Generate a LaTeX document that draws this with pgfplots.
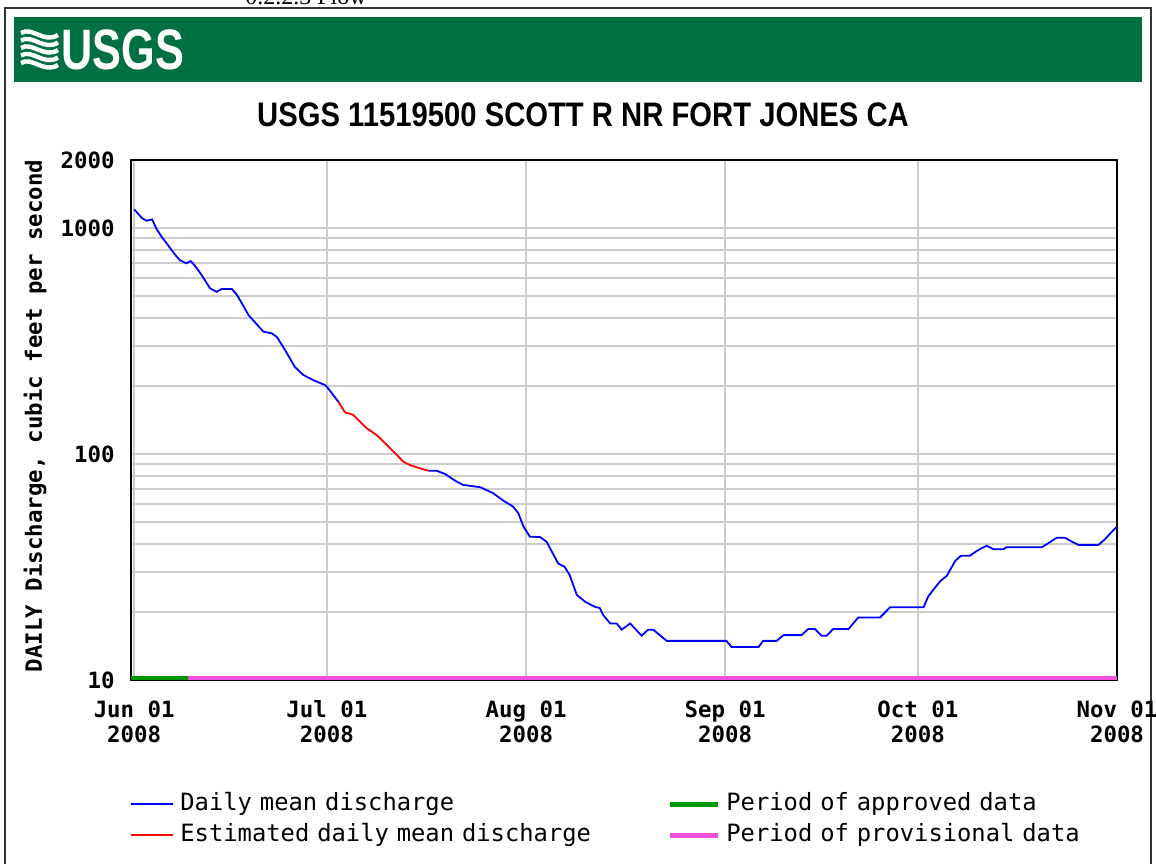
\documentclass[border=0pt]{standalone}
\usepackage{fontspec}
\setmainfont{Liberation Sans}
\newfontfamily\monof{DejaVu Sans Mono}
\newfontfamily\seriff{Liberation Serif}
\usepackage{pgfplots}
\pgfplotsset{compat=1.18}
\usepackage{pgfplotstable}
\definecolor{usgsgreen}{RGB}{0,112,66}
\definecolor{gridgray}{RGB}{204,204,204}
\definecolor{apprgreen}{RGB}{0,150,0}
\definecolor{provmag}{RGB}{240,80,220}

% day index: 0 = Jun 01 2008
\pgfplotstableread{
x y
0.0 1210
1.2 1107
1.9 1077
2.8 1091
3.4 1000
4.3 912
5.6 815
6.4 760
7.1 721
8.1 698
8.8 714
9.5 679
10.5 619
11.8 541
12.8 522
13.6 537
15.2 537
16.0 506
17.8 412
20.1 348
21.4 342
22.2 330
23.5 288
25.0 243
26.3 224
27.9 212
29.7 202
30.2 195
31.8 170
}\blueA

\pgfplotstableread{
x y
31.8 170
32.8 153
34.1 149
36.2 130
37.8 121
39.3 110
41.9 92.5
42.9 89.4
44.5 86.5
45.8 84.3
}\redA

\pgfplotstableread{
x y
45.8 84.3
47.1 84.3
48.4 81.6
50.2 75.5
51.2 73
53.9 71.3
55.9 67
57.5 62.1
59.0 58.5
59.8 54.7
60.6 47.7
61.6 43.1
63.2 42.9
64.2 40.9
66.0 32.8
67.0 31.7
67.8 29.1
68.9 23.8
70.2 22.2
71.7 21.1
72.5 20.8
73.0 19.4
74.1 17.8
75.1 17.8
75.9 16.7
77.2 17.8
79.0 15.7
80.0 16.7
80.8 16.7
82.9 14.9
92.2 14.9
93.0 14.0
97.2 14.0
97.9 14.9
100.0 14.9
101.1 15.8
103.9 15.8
104.9 16.8
106.0 16.8
107.0 15.7
107.8 15.7
108.8 16.8
111.2 16.8
112.7 18.9
116.1 18.9
117.7 21.0
122.9 21.0
123.6 23.4
124.7 25.7
125.5 27.4
126.5 28.9
127.3 31.7
127.8 33.6
128.7 35.5
130.1 35.5
131.4 37.6
132.7 39.3
133.8 37.9
135.3 37.9
135.8 38.7
141.3 38.7
142.3 40.3
143.6 42.6
144.9 42.6
146.0 40.9
147.0 39.6
150.1 39.6
151.1 41.9
152.2 45.3
153.0 47.7
}\blueB

\begin{document}
\begin{tikzpicture}
\useasboundingbox (0pt,0pt) rectangle (578pt,-431.5pt);
\begin{scope}[x=0.5pt,y=-0.5pt]
  % clipped header text above the frame
  \node[anchor=base west, inner sep=0pt, font=\seriff\fontsize{12}{12}\selectfont] at (245,4) {0.2.2.3 Flow};
  % frame
  \draw[black!80, line width=1pt] (5,880) -- (5,8) -- (1151,8) -- (1151,880);
  % banner
  \fill[usgsgreen] (14,17) rectangle (1142,82);
  % wave icon
  \foreach \i in {0,1,2,3,4} {
    \draw[white, line width=2.2pt] (21,{33+7.5*\i}) .. controls (32,{26+7.5*\i}) and (44,{44+7.5*\i}) .. (58,{35+7.5*\i});
  }
  \node[anchor=west, inner sep=0pt, text=white] at (61,50)
    {\scalebox{0.76}[1]{\fontsize{28.5}{28}\selectfont\bfseries USGS}};
  % title
  \node[inner sep=0pt] at (583,115)
    {\scalebox{0.86}[1]{\fontsize{17}{17}\selectfont\bfseries USGS 11519500 SCOTT R NR FORT JONES CA}};
  % y label
  \node[rotate=90, inner sep=0pt, font=\monof\bfseries\fontsize{11.2}{12}\selectfont] at (35,416)
    {DAILY Discharge, cubic feet per second};
\end{scope}

\begin{axis}[
  at={(65.5pt,-340pt)}, anchor=south west,
  scale only axis, width=493pt, height=260pt,
  ymode=log, ymin=10, ymax=2000, xmin=-0.5, xmax=153,
  axis line style={line width=1pt},
  xtick={0,30,61,92,122,153},
  xticklabels={{Jun 01\\2008},{Jul 01\\2008},{Aug 01\\2008},{Sep 01\\2008},{Oct 01\\2008},{Nov 01\\2008}},
  ytick={10,20,30,40,50,60,70,80,90,100,200,300,400,500,600,700,800,900,1000,2000},
  yticklabels={10,,,,,,,,,100,,,,,,,,,1000,2000},
  major tick length=0pt, minor tick num=0,
  grid=major, major grid style={gridgray, line width=0.9pt},
  tick label style={font=\monof\bfseries\fontsize{11.2}{12.5}\selectfont},
  yticklabel style={anchor=east, inner sep=0pt, xshift=-8pt},
  xticklabel style={anchor=north, inner sep=0pt, yshift=-10pt, align=center},
  legend columns=2, transpose legend,
  legend style={at={(axis description cs:0,0)}, anchor=north west, xshift=-0.5pt, yshift=-56.5pt,
    draw=none, fill=none, inner sep=0pt, column sep=3pt, row sep=4.5pt,
    font=\monof\fontsize{11.9}{12}\selectfont,
    nodes={inner sep=0pt, text width=240.5pt, text height=8.5pt, text depth=2.5pt}},
  legend cell align=left,
]
\addplot[blue, line width=0.9pt, legend image code/.code={\draw[blue, line width=1pt] (0pt,0pt) -- (21pt,0pt);}] table[x=x,y=y] {\blueA};
\addlegendentry{Daily mean discharge}
\addplot[red, line width=0.9pt, legend image code/.code={\draw[red, line width=1pt] (0pt,0pt) -- (21pt,0pt);}] table[x=x,y=y] {\redA};
\addlegendentry{Estimated daily mean discharge}
\addplot[apprgreen, line width=2pt, legend image code/.code={\draw[apprgreen, line width=2.5pt] (0pt,0pt) -- (24pt,0pt);}] coordinates {(-0.5,10.25) (8.4,10.25)};
\addlegendentry{Period of approved data}
\addplot[provmag, line width=2pt, legend image code/.code={\draw[provmag, line width=2.5pt] (0pt,0pt) -- (24pt,0pt);}] coordinates {(8.4,10.25) (153,10.25)};
\addlegendentry{Period of provisional data}
\addplot[blue, line width=0.9pt, forget plot] table[x=x,y=y] {\blueB};
\end{axis}
\end{tikzpicture}
\end{document}
